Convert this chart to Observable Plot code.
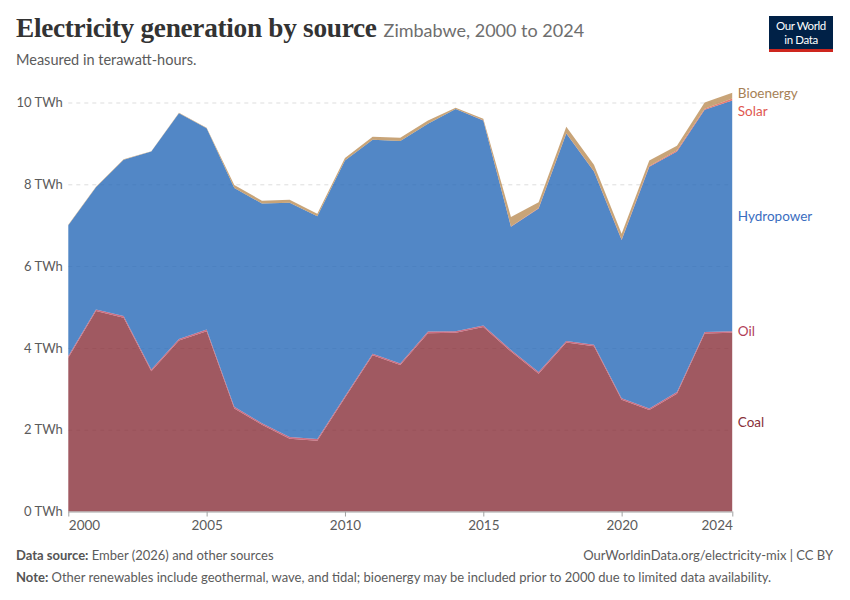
<!DOCTYPE html>
<html>
<head>
<meta charset="utf-8">
<script src="https://cdn.jsdelivr.net/npm/d3@7"></script>
<script src="https://cdn.jsdelivr.net/npm/@observablehq/plot@0.6"></script>
<style>
  html, body { margin: 0; padding: 0; background: #fff; }
  #wrap { position: relative; width: 850px; height: 600px; font-family: Lato, "Noto Sans", sans-serif; }
  #header { position: relative; height: 80px; }
  #title { position: absolute; left: 16px; top: 13px; white-space: nowrap; }
  #title .main { font-family: "Liberation Serif", "DejaVu Serif", serif; font-weight: 700; font-size: 27.3px; color: #333; letter-spacing: -0.3px; }
  #title .sub { font-family: Lato, sans-serif; font-size: 18px; color: #6e6e6e; margin-left: 7px; }
  #subtitle { position: absolute; left: 16px; top: 51px; font-size: 14.5px; color: #5b5b5b; }
  #logo { position: absolute; left: 769px; top: 16px; width: 64px; height: 36px; background: #002147; border-bottom: 3px solid #ce261e; box-sizing: border-box; color: #fff; font-size: 11.5px; line-height: 14px; text-align: center; padding-top: 3px; letter-spacing: -0.4px; }
  #chart { position: relative; height: 460px; }
  #footer { position: relative; height: 60px; font-size: 13px; color: #5b5b5b; }
  #footer .src { position: absolute; left: 16px; top: 7px; }
  #footer .url { position: absolute; right: 17px; top: 7px; }
  #footer .note { position: absolute; left: 16px; top: 29px; white-space: nowrap; }
  #footer b { font-weight: 700; color: #555; }
</style>
</head>
<body>
<div id="wrap">
  <div id="header">
    <div id="title"><span class="main">Electricity generation by source</span><span class="sub">Zimbabwe, 2000 to 2024</span></div>
    <div id="subtitle">Measured in terawatt-hours.</div>
    <div id="logo">Our World<br>in Data</div>
  </div>
  <div id="chart"></div>
  <div id="footer">
    <div class="src"><b>Data source:</b> Ember (2026) and other sources</div>
    <div class="url">OurWorldinData.org/electricity-mix | CC BY</div>
    <div class="note"><b>Note:</b> Other renewables include geothermal, wave, and tidal; bioenergy may be included prior to 2000 due to limited data availability.</div>
  </div>
</div>
<script>
// ---- Data (TWh) ----
const years = [2000,2001,2002,2003,2004,2005,2006,2007,2008,2009,2010,2011,2012,2013,2014,2015,2016,2017,2018,2019,2020,2021,2022,2023,2024];
const coal  = [3.76,4.90,4.74,3.43,4.18,4.41,2.52,2.12,1.78,1.73,2.78,3.82,3.58,4.36,4.37,4.51,3.91,3.37,4.13,4.04,2.73,2.48,2.88,4.35,4.37];
const oil   = [0.04,0.04,0.04,0.04,0.04,0.04,0.04,0.04,0.04,0.04,0.04,0.04,0.04,0.04,0.04,0.04,0.04,0.04,0.04,0.04,0.04,0.04,0.04,0.04,0.04];
const hydro = [3.20,2.99,3.82,5.33,5.52,4.92,5.35,5.37,5.73,5.45,5.76,5.23,5.44,5.08,5.43,5.01,3.01,4.00,5.07,4.23,3.87,5.91,5.88,5.43,5.64];
const solar = [0,0,0,0,0,0,0,0,0,0,0,0,0,0,0,0.005,0.01,0.01,0.01,0.01,0.01,0.02,0.03,0.03,0.05];
const bio   = [0.01,0.01,0.01,0.01,0.01,0.01,0.07,0.07,0.07,0.06,0.06,0.07,0.08,0.08,0.03,0.04,0.23,0.14,0.16,0.16,0.14,0.13,0.11,0.15,0.14];

const sources    = ["Coal","Oil","Hydropower","Solar","Bioenergy"];
const fillColors = ["#883039","#c04a63","#2769b8","#e35a4f","#ba8d56"];
const textColors = ["#883039","#b13e57","#3a6dc0","#e0574f","#a67f55"];
const xTicks = [2000,2005,2010,2015,2020,2024];
const yTicks = [0,2,4,6,8,10];

const seriesValues = [coal, oil, hydro, solar, bio];
const tidy = [];
sources.forEach((s, i) => years.forEach((yr, j) => tidy.push({source: s, year: yr, value: seriesValues[i][j]})));

// Label positions at the last year: stack midpoints (oil at its top), with collision avoidance
const last = years.length - 1;
let cum = 0;
const labels = sources.map((s, i) => {
  const v = seriesValues[i][last];
  const pos = s === "Oil" ? cum + v : cum + v / 2;
  cum += v;
  return {name: s, y: pos, color: textColors[i]};
});
const pxPerTWh = 409 / 10;
const minGap = 18 / pxPerTWh;
const sorted = [...labels].sort((a, b) => b.y - a.y);
sorted[0].y += 2 / pxPerTWh;
for (let k = 1; k < sorted.length; k++) {
  if (sorted[k - 1].y - sorted[k].y < minGap) sorted[k].y = sorted[k - 1].y - minGap;
}

const plot = Plot.plot({
  width: 850,
  height: 460,
  marginLeft: 68.3,
  marginRight: 117.7,
  marginTop: 22.5,
  marginBottom: 28.5,
  style: {fontFamily: "Lato, sans-serif", overflow: "visible", background: "transparent"},
  x: {domain: [2000, 2024], axis: null},
  y: {domain: [0, 10], axis: null},
  color: {domain: sources, range: fillColors},
  marks: [
    Plot.ruleY(yTicks.filter(d => d > 0), {stroke: "#dddddd", strokeDasharray: "4,4", strokeWidth: 1}),
    Plot.areaY(tidy, {x: "year", y: "value", fill: "source", fillOpacity: 0.8, order: sources, curve: "linear"}),
    Plot.ruleX([2024], {y1: 0, y2: cum, stroke: "#ffffff", strokeOpacity: 0.45}),
    Plot.ruleY([0], {stroke: "#a1a1a1", strokeWidth: 1}),
    Plot.axisX({ticks: xTicks, tickSize: 5, tickFormat: () => "", stroke: "#a1a1a1", label: null}),
    Plot.text(xTicks.slice(0, 1), {x: d => d, y: 0, text: d => String(d), textAnchor: "start", dy: 14, fontSize: 13.5, fill: "#5b5b5b"}),
    Plot.text(xTicks.slice(1, -1), {x: d => d, y: 0, text: d => String(d), textAnchor: "middle", dy: 14, fontSize: 13.5, fill: "#5b5b5b"}),
    Plot.text(xTicks.slice(-1), {x: d => d, y: 0, text: d => String(d), textAnchor: "end", dy: 14, fontSize: 13.5, fill: "#5b5b5b"}),
    Plot.text(yTicks, {x: 2000, y: d => d, text: d => `${d} TWh`, textAnchor: "end", dx: -6, fontSize: 13, fill: "#5b5b5b"}),
    Plot.text(labels, {x: 2024, y: "y", text: "name", fill: "color", textAnchor: "start", dx: 5, fontSize: 13.5})
  ]
});
document.getElementById("chart").appendChild(plot);
</script>
</body>
</html>
